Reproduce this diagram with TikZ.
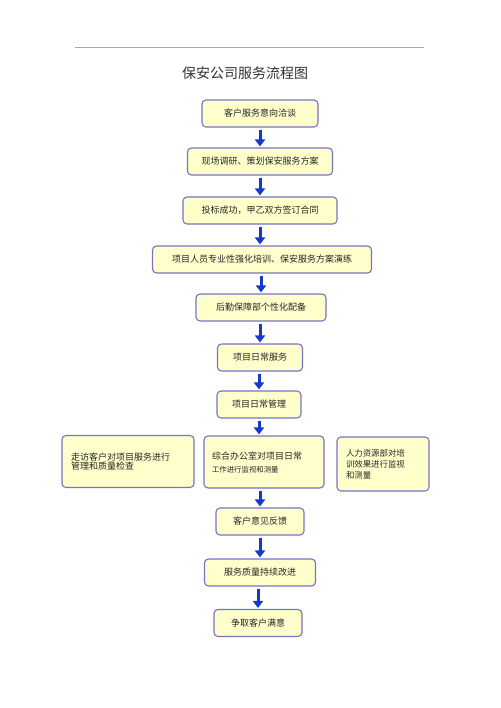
\documentclass[tikz,border=0pt]{standalone}
\usepackage{fontspec}
\setmainfont{Noto Sans CJK SC}
\usetikzlibrary{arrows.meta}
\definecolor{boxfill}{HTML}{FFFFCC}
\definecolor{boxline}{HTML}{7474C4}
\definecolor{arrowblue}{HTML}{1638CC}
\begin{document}
\begin{tikzpicture}[x=1pt, y=-1pt,
	stepbox/.style={draw=boxline, line width=1.1pt, fill=boxfill, rounded corners=4pt,
		minimum height=27pt, inner sep=0pt, font=\fontsize{9}{11}\selectfont, text=black!85},
	sidebox/.style={stepbox, align=left, minimum height=52pt},
	flow/.style={draw=arrowblue, line width=3pt, shorten <=2pt, shorten >=1pt,
		-{Triangle[width=10pt,length=7pt]}}]
	% Page size
	\useasboundingbox (0,0) rectangle (500,708);

	% Rule and title
	\draw[gray!70, line width=0.8pt] (75,47) -- (424,47);
	\node[font=\fontsize{14}{16}\selectfont, text=black!80] (title) at (245,73) {保安公司服务流程图};

	% Main steps
	\node[stepbox, minimum width=116pt] (talk) at (260,113.5) {客户服务意向洽谈};
	\node[stepbox, minimum width=145pt] (plan) at (260,161.5) {现场调研、策划保安服务方案};
	\node[stepbox, minimum width=154pt] (bid) at (260,210.5) {投标成功，甲乙双方签订合同};
	\node[stepbox, minimum width=219pt] (train) at (262,259.5) {项目人员专业性强化培训、保安服务方案演练};
	\node[stepbox, minimum width=130pt] (equip) at (261,307.5) {后勤保障部个性化配备};
	\node[stepbox, minimum width=85pt] (serve) at (260,357.5) {项目日常服务};
	\node[stepbox, minimum width=84pt] (manage) at (259,404.5) {项目日常管理};

	% Monitoring row
	\node[sidebox, minimum width=132pt, text width=114pt, font=\fontsize{9}{8}\selectfont] (visit) at (128,461.5)
		{走访客户对项目服务进行\\管理和质量检查};
	\node[sidebox, minimum width=120pt, text width=104pt, font=\fontsize{9}{13}\selectfont] (office) at (264,462)
		{综合办公室对项目日常\\{\fontsize{7.4}{9}\selectfont 工作进行监视和测量}};
	\node[sidebox, minimum width=92pt, minimum height=54pt, text width=74pt, font=\fontsize{8.4}{11}\selectfont] (hr) at (383,464)
		{人力资源部对培\\训效果进行监视\\和测量};

	% Last steps
	\node[stepbox, minimum width=88pt] (feedback) at (260,521.5) {客户意见反馈};
	\node[stepbox, minimum width=111pt] (improve) at (260,572.5) {服务质量持续改进};
	\node[stepbox, minimum width=88pt] (satisfy) at (258,623) {争取客户满意};

	% Arrows
	\draw[flow] (talk) -- (plan);
	\draw[flow] (plan) -- (bid);
	\draw[flow] (bid.south) -- (bid.south |- train.north);
	\draw[flow] (train.south -| equip) -- (equip);
	\draw[flow] (equip.south -| serve) -- (serve);
	\draw[flow] (serve.south -| manage) -- (manage);
	\draw[flow] (manage.south) -- (manage.south |- office.north);
	\draw[flow] (office.south -| feedback) -- (feedback);
	\draw[flow] (feedback) -- (improve);
	\draw[flow] (improve.south -| satisfy) -- (satisfy);
\end{tikzpicture}
\end{document}
